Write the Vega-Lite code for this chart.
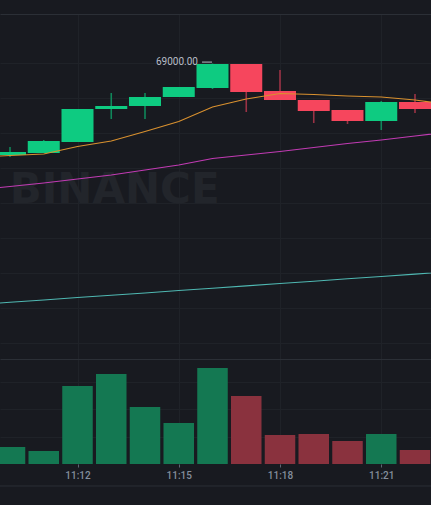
{
  "$schema": "https://vega.github.io/schema/vega-lite/v6.json",
  "width": 431,
  "height": 450,
  "autosize": {"type": "none"},
  "padding": {"left": 0, "right": 0, "top": 14, "bottom": 41},
  "background": "#181a20",
  "config": {"view": {"stroke": null}},
  "datasets": {
    "candles": [
      {"t": 10, "o": 68738.6, "h": 68761.4, "l": 68732.9, "c": 68747.1, "v": 30.9},
      {"t": 11, "o": 68744.3, "h": 68781.4, "l": 68744.3, "c": 68778.6, "v": 23.6},
      {"t": 12, "o": 68775.7, "h": 68870.0, "l": 68775.7, "c": 68870.0, "v": 141.8},
      {"t": 13, "o": 68870.0, "h": 68915.7, "l": 68841.4, "c": 68878.6, "v": 163.6},
      {"t": 14, "o": 68878.6, "h": 68915.7, "l": 68841.4, "c": 68904.3, "v": 103.6},
      {"t": 15, "o": 68904.3, "h": 68932.9, "l": 68904.3, "c": 68932.9, "v": 74.5},
      {"t": 16, "o": 68930.0, "h": 69000.0, "l": 68927.1, "c": 68998.6, "v": 174.5},
      {"t": 17, "o": 68998.6, "h": 68998.6, "l": 68861.4, "c": 68918.6, "v": 123.6},
      {"t": 18, "o": 68921.4, "h": 68981.4, "l": 68895.7, "c": 68895.7, "v": 52.7},
      {"t": 19, "o": 68895.7, "h": 68895.7, "l": 68830.0, "c": 68864.3, "v": 54.5},
      {"t": 20, "o": 68867.1, "h": 68867.1, "l": 68827.1, "c": 68835.7, "v": 41.8},
      {"t": 21, "o": 68835.7, "h": 68892.9, "l": 68810.0, "c": 68890.0, "v": 54.5},
      {"t": 22, "o": 68890.0, "h": 68912.9, "l": 68858.6, "c": 68870.0, "v": 25.5}
    ],
    "ma": [
      {"t": 9, "ma7": 68732.9, "ma25": 68638.6, "ma99": 68310.9},
      {"t": 10, "ma7": 68737.1, "ma25": 68648.6, "ma99": 68317.7},
      {"t": 11, "ma7": 68741.4, "ma25": 68658.6, "ma99": 68324.3},
      {"t": 12, "ma7": 68762.9, "ma25": 68670.0, "ma99": 68331.2},
      {"t": 13, "ma7": 68778.6, "ma25": 68681.4, "ma99": 68337.8},
      {"t": 14, "ma7": 68805.7, "ma25": 68695.7, "ma99": 68344.3},
      {"t": 15, "ma7": 68834.3, "ma25": 68710.0, "ma99": 68351.2},
      {"t": 16, "ma7": 68875.7, "ma25": 68728.6, "ma99": 68358.0},
      {"t": 17, "ma7": 68898.6, "ma25": 68738.6, "ma99": 68364.6},
      {"t": 18, "ma7": 68914.3, "ma25": 68748.6, "ma99": 68371.5},
      {"t": 19, "ma7": 68911.4, "ma25": 68760.0, "ma99": 68378.0},
      {"t": 20, "ma7": 68907.1, "ma25": 68771.4, "ma99": 68384.9},
      {"t": 21, "ma7": 68904.3, "ma25": 68781.4, "ma99": 68391.5},
      {"t": 22, "ma7": 68895.7, "ma25": 68792.9, "ma99": 68398.3},
      {"t": 23, "ma7": 68882.9, "ma25": 68804.3, "ma99": 68404.9}
    ],
    "mark": [{"label": "BINANCE"}]
  },
  "layer": [
    {
      "layer": [
        {
          "data": {"name": "mark"},
          "mark": {"type": "text", "align": "left", "baseline": "alphabetic", "font": "DejaVu Sans", "fontWeight": "bold", "fontSize": 42, "color": "#22252b"},
          "encoding": {
            "x": {"datum": 9.99, "type": "quantitative", "title": null, "scale": {"domain": [9.7037, 22.474], "nice": false, "zero": false, "padding": 0}},
            "y": {"datum": 68601, "type": "quantitative", "title": null, "scale": {"domain": [67855.7, 69141.4], "nice": false, "zero": false}},
            "text": {"field": "label"}
          }
        },
        {
          "data": {"name": "candles"},
          "mark": {"type": "rule", "strokeWidth": 1.6, "clip": true},
          "encoding": {
            "x": {"field": "t", "type": "quantitative", "title": null},
            "y": {"field": "l", "type": "quantitative", "title": null},
            "y2": {"field": "h"},
            "color": {"condition": {"test": "datum.c >= datum.o", "value": "#10875a"}, "value": "#9b3245"}
          }
        },
        {
          "data": {"name": "candles"},
          "mark": {"type": "bar", "size": 32, "clip": true},
          "encoding": {
            "x": {"field": "t", "type": "quantitative", "title": null},
            "y": {"field": "o", "type": "quantitative", "title": null,
              "axis": {"values": [68200, 68300, 68400, 68500, 68600, 68700, 68800, 68900, 69000, 69141.4], "labels": false, "ticks": false, "domain": false, "grid": true, "title": null,
                "gridColor": {"condition": {"test": "datum.value > 69100", "value": "#2b2f36"}, "value": "#1f2228"}}},
            "y2": {"field": "c"},
            "color": {"condition": {"test": "datum.c >= datum.o", "value": "#0ecb81"}, "value": "#f6465d"}
          }
        },
        {
          "data": {"name": "ma"},
          "mark": {"type": "line", "strokeWidth": 1.1, "color": "#4fb8b2", "clip": true},
          "encoding": {
            "x": {"field": "t", "type": "quantitative", "title": null},
            "y": {"field": "ma99", "type": "quantitative", "title": null}
          }
        },
        {
          "data": {"name": "ma"},
          "mark": {"type": "line", "strokeWidth": 1.1, "color": "#c23bb4", "clip": true},
          "encoding": {
            "x": {"field": "t", "type": "quantitative", "title": null},
            "y": {"field": "ma25", "type": "quantitative", "title": null}
          }
        },
        {
          "data": {"name": "ma"},
          "mark": {"type": "line", "strokeWidth": 1.1, "color": "#d9912f", "clip": true},
          "encoding": {
            "x": {"field": "t", "type": "quantitative", "title": null},
            "y": {"field": "ma7", "type": "quantitative", "title": null}
          }
        },
        {
          "data": {"name": "candles"},
          "transform": [{"filter": "datum.h >= 69000"}],
          "mark": {"type": "text", "align": "right", "baseline": "middle", "font": "Roboto", "fontSize": 10, "color": "#b7bdc6", "dy": -1},
          "encoding": {
            "x": {"datum": 15.57, "type": "quantitative", "title": null},
            "y": {"field": "h", "type": "quantitative", "title": null},
            "text": {"field": "h", "type": "quantitative", "format": ".2f"}
          }
        },
        {
          "data": {"name": "candles"},
          "transform": [{"filter": "datum.h >= 69000"}],
          "mark": {"type": "rule", "strokeWidth": 1, "color": "#b7bdc6"},
          "encoding": {
            "x": {"datum": 15.69, "type": "quantitative", "title": null},
            "x2": {"datum": 15.985},
            "y": {"datum": 69004, "type": "quantitative", "title": null}
          }
        }
      ]
    },
    {
      "layer": [
        {
          "data": {"name": "candles"},
          "mark": {"type": "bar", "size": 30.5, "clip": true},
          "encoding": {
            "x": {"field": "t", "type": "quantitative", "title": null,
              "scale": {"domain": [9.7037, 22.474], "nice": false, "zero": false, "padding": 0},
              "axis": {"values": [12, 15, 18, 21], "labelExpr": "'11:' + datum.value", "grid": true, "gridColor": "#1f2228", "domain": false, "tickSize": 3, "tickColor": "#5e6673", "labelColor": "#848e9c", "labelFont": "Roboto", "labelFontSize": 10, "labelFontWeight": 500, "labelPadding": 3, "title": null}},
            "y": {"field": "v", "type": "quantitative", "title": null,
              "scale": {"domain": [0, 818.2], "nice": false, "zero": false},
              "axis": {"values": [50, 100, 150, 190.9], "labels": false, "ticks": false, "domain": false, "grid": true, "title": null,
                "gridColor": {"condition": {"test": "datum.value > 180", "value": "#2b2f36"}, "value": "#1f2228"}}},
            "color": {"condition": {"test": "datum.c >= datum.o", "value": "#147852"}, "value": "#8a323e"}
          }
        },
        {
          "data": {"name": "mark"},
          "mark": {"type": "rule", "strokeWidth": 1, "color": "#2b2f36", "clip": false},
          "encoding": {
            "y": {"datum": -40, "type": "quantitative", "title": null}
          }
        }
      ]
    }
  ],
  "resolve": {"scale": {"y": "independent"}, "axis": {"y": "independent"}}
}
